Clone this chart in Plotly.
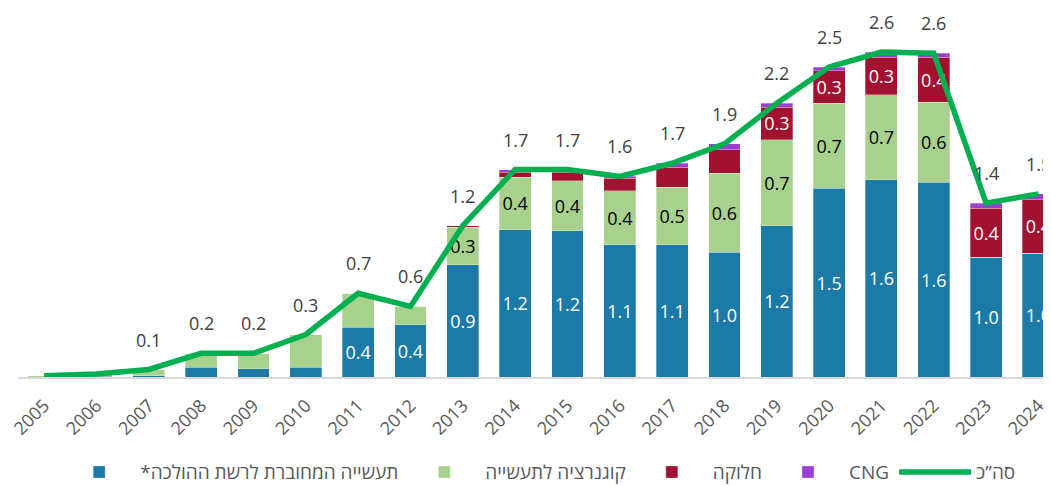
import plotly.graph_objects as go
import numpy as np

# years on the x axis
years = ["2005", "2006", "2007", "2008", "2009", "2010", "2011", "2012", "2013", "2014",
         "2015", "2016", "2017", "2018", "2019", "2020", "2021", "2022", "2023", "2024"]

# industry connected to the transmission grid (blue)
transmission = [0.0, 0.005, 0.01, 0.08, 0.065, 0.08, 0.40, 0.42, 0.90, 1.18,
                1.17, 1.06, 1.06, 1.00, 1.21, 1.51, 1.58, 1.56, 0.96, 0.99]
# cogeneration for industry (light green)
cogeneration = [0.01, 0.02, 0.05, 0.11, 0.125, 0.26, 0.27, 0.145, 0.30, 0.42,
                0.40, 0.43, 0.46, 0.63, 0.69, 0.68, 0.68, 0.64, 0.0, 0.0]
# distribution (dark red)
distribution = [0.0, 0.0, 0.0, 0.0, 0.0, 0.0, 0.0, 0.0, 0.01, 0.04,
                0.07, 0.10, 0.16, 0.19, 0.26, 0.26, 0.30, 0.36, 0.39, 0.43]
# CNG (purple)
cng = [0.0, 0.0, 0.0, 0.0, 0.0, 0.0, 0.0, 0.0, 0.0, 0.02,
       0.02, 0.015, 0.03, 0.045, 0.03, 0.03, 0.04, 0.03, 0.04, 0.045]

total = np.array(transmission) + np.array(cogeneration) + np.array(distribution) + np.array(cng)

# which years carry a data label in the original
transmission_labels = [f"{v:.1f}" if int(y) >= 2011 else "" for y, v in zip(years, transmission)]
cogeneration_labels = [f"{v:.1f}" if 2013 <= int(y) <= 2022 else "" for y, v in zip(years, cogeneration)]
distribution_labels = [f"{v:.1f}" if int(y) >= 2019 else "" for y, v in zip(years, distribution)]
total_labels = [f"{v:.1f}" if int(y) >= 2007 else "" for y, v in zip(years, total)]

font = "Open Sans, Noto Sans, DejaVu Sans, sans-serif"
edge = dict(color="rgba(255,255,255,0.6)", width=0.5)

fig = go.Figure()

fig.add_trace(go.Bar(
    x=years, y=transmission, name="תעשייה המחוברת לרשת ההולכה*\u200f",
    marker=dict(color="#1c7aa6", line=edge), text=transmission_labels,
    textposition="inside", insidetextanchor="middle", textangle=0,
    textfont=dict(color="white", size=18, family=font),
))
fig.add_trace(go.Bar(
    x=years, y=cogeneration, name="קוגנרציה לתעשייה",
    marker=dict(color="#a9d18e", line=edge), text=cogeneration_labels,
    textposition="inside", insidetextanchor="middle", textangle=0,
    textfont=dict(color="black", size=18, family=font),
))
fig.add_trace(go.Bar(
    x=years, y=distribution, name="חלוקה",
    marker=dict(color="#a31131", line=edge), text=distribution_labels,
    textposition="inside", insidetextanchor="middle", textangle=0,
    textfont=dict(color="white", size=18, family=font),
))
fig.add_trace(go.Bar(
    x=years, y=cng, name="CNG",
    marker=dict(color="#9b3fd3", line=edge),
))
fig.add_trace(go.Scatter(
    x=years, y=total, name="סה”כ", mode="lines",
    line=dict(color="#00b050", width=5.5),
))

# total labels above the line (x given as category index)
for i, (v, t) in enumerate(zip(total, total_labels)):
    if t:
        fig.add_annotation(x=i, y=v, text=t, showarrow=False, yshift=30,
                           font=dict(size=18, color="#404040", family=font))

# the page body has an 8px margin, so the figure is drawn 8px in from the corner
fig.update_layout(
    barmode="stack",
    bargap=0.39,
    width=1043,
    height=478,
    margin=dict(l=10, r=0, t=0, b=109, autoexpand=False),
    plot_bgcolor="white",
    paper_bgcolor="white",
    font=dict(family=font, color="#595959"),
    uniformtext=dict(mode="show", minsize=17),
    legend=dict(
        orientation="h", traceorder="normal", itemwidth=72,
        x=0.505, xanchor="center", y=-0.258, yanchor="middle",
        font=dict(size=19, color="#595959"),
    ),
    xaxis=dict(
        type="category", range=[-0.5, 19.24], tickangle=-45,
        showline=True, linecolor="#d9d9d9", linewidth=2,
        showgrid=False, ticks="", ticklabelstandoff=9,
        tickfont=dict(size=18, color="#595959"),
    ),
    yaxis=dict(range=[0, 2.952], visible=False),
)

fig.write_html("out.html")
